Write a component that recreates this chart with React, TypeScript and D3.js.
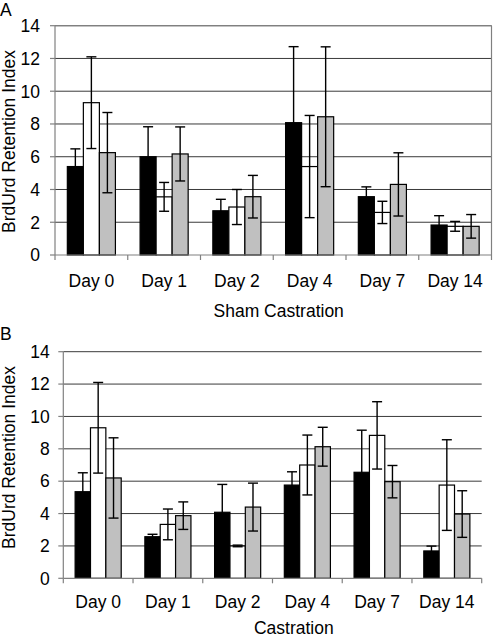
import React from "react";
import * as d3 from "d3";

const days = ["Day 0", "Day 1", "Day 2", "Day 4", "Day 7", "Day 14"];
const seriesKeys = ["black", "white", "grey"];
const seriesFill = ["#000000", "#ffffff", "#c0c0c0"];
const yTicks = [0, 2, 4, 6, 8, 10, 12, 14];

// Panel A: Sham Castration
const shamBlack = [5.4, 6.0, 2.7, 8.08, 3.56, 1.83];
const shamBlackErr = [1.08, 1.83, 0.7, 4.64, 0.6, 0.57];
const shamWhite = [9.3, 3.55, 2.93, 5.4, 2.6, 1.75];
const shamWhiteErr = [2.8, 0.88, 1.07, 3.12, 0.68, 0.3];
const shamGrey = [6.25, 6.17, 3.56, 8.44, 4.31, 1.75];
const shamGreyErr = [2.45, 1.65, 1.3, 4.27, 1.93, 0.72];

// Panel B: Castration
const castBlack = [5.35, 2.57, 4.08, 5.76, 6.55, 1.69];
const castBlackErr = [1.17, 0.15, 1.72, 0.82, 2.6, 0.3];
const castWhite = [9.3, 3.33, 2.0, 7.0, 8.83, 5.76];
const castWhiteErr = [2.8, 0.95, 0.05, 1.85, 2.08, 2.8];
const castGrey = [6.2, 3.87, 4.4, 8.13, 5.97, 3.97];
const castGreyErr = [2.48, 0.85, 1.48, 1.2, 1.0, 1.44];

const FONT = "'Liberation Sans', Arial, sans-serif";
const FS = 17.5;

type PanelProps = {
  label: string;
  title: string;
  values: number[][];
  errors: number[][];
  left: number;
  right: number;
  top: number;
  bottom: number;
  frame: boolean;
  labelY: number;
  yTitleY: number;
  titleX: number;
  titleY: number;
  catLabelOffset: number;
  tickLabelGap: number;
};

function Panel(p: PanelProps) {
  const x = d3.scaleBand<string>().domain(days).range([p.left, p.right]).padding(0);
  const bw = x.bandwidth();
  const inner = d3
    .scaleBand<string>()
    .domain(seriesKeys)
    .range([0, bw])
    .paddingInner(0)
    .paddingOuter(0.77);
  const y = d3.scaleLinear().domain([0, 14]).range([p.bottom, p.top]);
  const capW = 10;
  const gridColor = "#3a3a3a";
  const axisColor = "#808080";

  return (
    <g>
      <text x={0} y={p.labelY} fontFamily={FONT} fontSize={FS}>
        {p.label}
      </text>
      {/* gridlines */}
      {yTicks
        .filter((t) => t > 0)
        .map((t) => (
          <line
            key={"g" + t}
            x1={p.left}
            x2={p.right}
            y1={y(t)}
            y2={y(t)}
            stroke={gridColor}
            strokeWidth={1}
          />
        ))}
      {/* bars */}
      {days.map((d, i) =>
        seriesKeys.map((s, j) => {
          const v = p.values[j][i];
          const bx = (x(d) as number) + (inner(s) as number);
          return (
            <rect
              key={d + s}
              x={bx}
              y={y(v)}
              width={inner.bandwidth()}
              height={y(0) - y(v)}
              fill={seriesFill[j]}
              stroke="#000"
              strokeWidth={1.2}
            />
          );
        })
      )}
      {/* error bars */}
      {days.map((d, i) =>
        seriesKeys.map((s, j) => {
          const v = p.values[j][i];
          const e = p.errors[j][i];
          const cx = (x(d) as number) + (inner(s) as number) + inner.bandwidth() / 2;
          return (
            <g key={"e" + d + s} stroke="#000" strokeWidth={1.4}>
              <line x1={cx} x2={cx} y1={y(v - e)} y2={y(v + e)} />
              <line x1={cx - capW / 2} x2={cx + capW / 2} y1={y(v + e)} y2={y(v + e)} />
              <line x1={cx - capW / 2} x2={cx + capW / 2} y1={y(v - e)} y2={y(v - e)} />
            </g>
          );
        })
      )}
      {/* y axis */}
      <line x1={p.left} x2={p.left} y1={p.top} y2={p.bottom} stroke={axisColor} strokeWidth={1.2} />
      {yTicks.map((t) => (
        <g key={"yt" + t}>
          <line x1={p.left - 5} x2={p.left} y1={y(t)} y2={y(t)} stroke={axisColor} strokeWidth={1.2} />
          <text
            x={p.left - p.tickLabelGap}
            y={y(t)}
            dy="0.36em"
            textAnchor="end"
            fontFamily={FONT}
            fontSize={FS}
            fill="#000"
          >
            {t}
          </text>
        </g>
      ))}
      {/* x axis */}
      <line x1={p.left} x2={p.right} y1={p.bottom} y2={p.bottom} stroke={axisColor} strokeWidth={1.2} />
      {days.map((d) => (
        <line
          key={"xt" + d}
          x1={x(d) as number}
          x2={x(d) as number}
          y1={p.bottom}
          y2={p.bottom + 5}
          stroke={axisColor}
          strokeWidth={1.2}
        />
      ))}
      <line x1={p.right} x2={p.right} y1={p.bottom} y2={p.bottom + 5} stroke={axisColor} strokeWidth={1.2} />
      {days.map((d) => (
        <text
          key={"xl" + d}
          x={(x(d) as number) + bw / 2}
          y={p.bottom + p.catLabelOffset}
          textAnchor="middle"
          fontFamily={FONT}
          fontSize={FS}
          fill="#000"
        >
          {d}
        </text>
      ))}
      {p.frame && (
        <g stroke={axisColor} strokeWidth={1.2} fill="none">
          <line x1={p.left} x2={p.right} y1={p.top} y2={p.top} />
          <line x1={p.right} x2={p.right} y1={p.top} y2={p.bottom} />
        </g>
      )}
      {/* y title */}
      <text
        transform={`translate(15,${p.yTitleY}) rotate(-90)`}
        textAnchor="middle"
        fontFamily={FONT}
        fontSize={FS}
        fill="#000"
      >
        BrdUrd Retention Index
      </text>
      <text x={p.titleX} y={p.titleY} textAnchor="middle" fontFamily={FONT} fontSize={FS} fill="#000">
        {p.title}
      </text>
    </g>
  );
}

export default function App() {
  return (
    <div style={{ position: "absolute", left: 0, top: 0 }}>
      <svg width={493} height={637} style={{ display: "block", background: "#fff" }}>
        <Panel
          label="A"
          title="Sham Castration"
          values={[shamBlack, shamWhite, shamGrey]}
          errors={[shamBlackErr, shamWhiteErr, shamGreyErr]}
          left={55}
          right={491.5}
          top={25.7}
          bottom={255}
          frame={true}
          labelY={16}
          yTitleY={141.5}
          titleX={278.7}
          titleY={316.7}
          catLabelOffset={31.7}
          tickLabelGap={15}
        />
        <Panel
          label="B"
          title="Castration"
          values={[castBlack, castWhite, castGrey]}
          errors={[castBlackErr, castWhiteErr, castGreyErr]}
          left={63.3}
          right={481.7}
          top={351.7}
          bottom={578.3}
          frame={false}
          labelY={340}
          yTitleY={457.5}
          titleX={293.8}
          titleY={633.5}
          catLabelOffset={30}
          tickLabelGap={13.5}
        />
      </svg>
    </div>
  );
}
